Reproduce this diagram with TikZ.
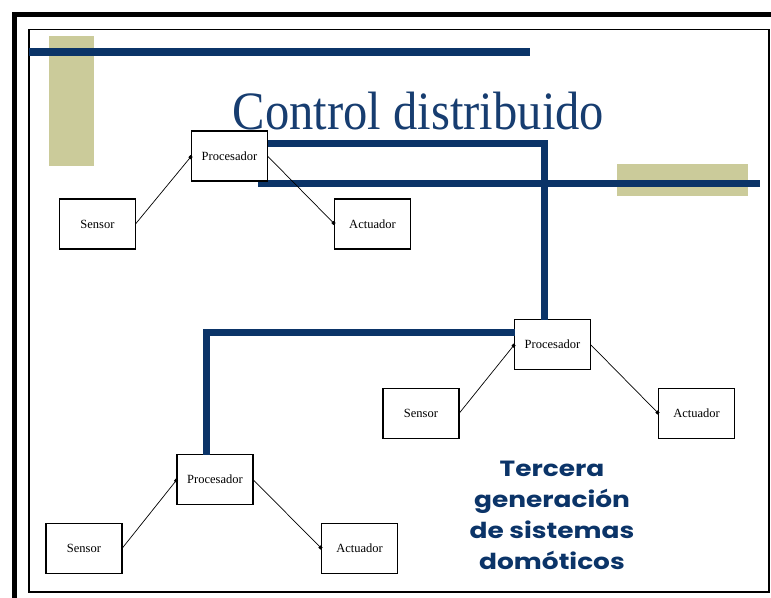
\documentclass[tikz,border=0pt]{standalone}
\usepackage{fontspec}
\setmainfont{Liberation Serif}
\newfontfamily\titlefont{Liberation Serif}[FakeStretch=0.9]
\newfontfamily\genfont{Poppins}[FakeStretch=1.2]
\usetikzlibrary{arrows.meta}
\definecolor{navy}{HTML}{0B3468}
\definecolor{titleblue}{HTML}{173D70}
\definecolor{olive}{HTML}{CBCB9A}
\tikzset{
  unitbox/.style={draw=black, line width=1.3pt, fill=white, minimum width=76pt, minimum height=50pt, inner sep=0pt, outer sep=0pt, font=\fontsize{12.5}{14}\selectfont},
  bus/.style={draw=navy, line width=7pt},
  wire/.style={draw=black, line width=0.7pt, -{Square[length=3pt,width=3pt]}},
  olivebar/.style={fill=olive, draw=none}
}
\begin{document}
\begin{tikzpicture}[x=1pt,y=-1pt]
\useasboundingbox (0,0) rectangle (771,597);
\clip (0,0) rectangle (771,597);
% frames
\draw[line width=5pt] (14,14.5) rectangle (800,640);
\draw[line width=1.6pt] (29,29.5) rectangle (769,592);
% decorative bars
\fill[olivebar] (49,36) rectangle (94,166);
\fill[olivebar] (617,164) rectangle (748,196);
\fill[navy] (29,48) rectangle (530,56);
\fill[navy] (258,179.5) rectangle (760,186.5);
% title
\node[anchor=base, text=titleblue, font=\titlefont\fontsize{54}{60}\selectfont, inner sep=0pt] (title) at (418.5,129) {Control distribuido};
% boxes
\node[unitbox] (p1) at (229.5,156) {Procesador};
\node[unitbox] (s1) at (97.5,224) {Sensor};
\node[unitbox] (a1) at (372.5,224) {Actuador};
\node[unitbox] (p2) at (552.5,344.5) {Procesador};
\node[unitbox] (s2) at (421,413.5) {Sensor};
\node[unitbox] (a2) at (696.5,413.5) {Actuador};
\node[unitbox] (p3) at (215,479.5) {Procesador};
\node[unitbox] (s3) at (84,548.5) {Sensor};
\node[unitbox] (a3) at (359.5,548.5) {Actuador};
% buses
\coordinate (b1) at (544,143);
\coordinate (b3) at (206,332);
\draw[bus] (p1.east |- b1) -- (b1) -- (b1 |- p2.north);
\draw[bus] (p2.west |- b3) -- (b3) -- (b3 |- p3.north);
% wires
\draw[wire] (s1.east) -- (p1.west);
\draw[wire] (p1.east) -- (a1.west);
\draw[wire] (s2.east) -- (p2.west);
\draw[wire] (p2.east) -- (a2.west);
\draw[wire] (s3.east) -- (p3.west);
\draw[wire] (p3.east) -- (a3.west);
% caption
\node[anchor=north, align=center, text=navy, font=\genfont\bfseries\fontsize{22}{31}\selectfont, inner sep=0pt] (gen) at (552,461) {Tercera\\generación\\de sistemas\\domóticos};
\end{tikzpicture}
\end{document}
